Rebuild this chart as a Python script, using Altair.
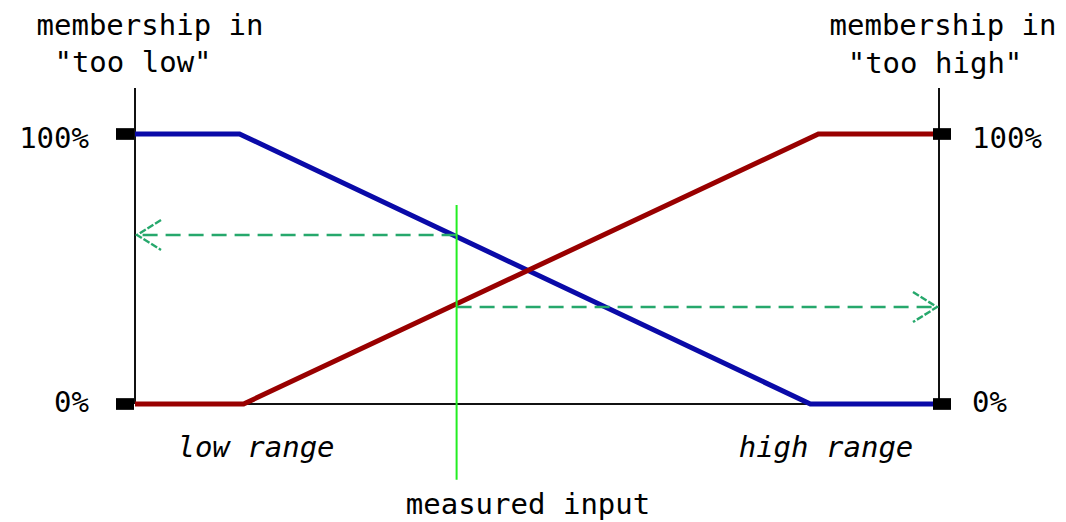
import altair as alt
import pandas as pd

# ---- data ----
blue_x = [0, 13, 84, 100]          # membership in "too low"
blue_y = [100, 100, 0, 0]
red_x = [0, 13.5, 85, 100]         # membership in "too high"
red_y = [0, 0, 100, 100]
measured_input = 40
too_low_at_input = 62.6
too_high_at_input = 35.9
tick_values = [0, 100]
tick_labels = ["0%", "100%"]
axis_top = 117
input_line_top = 73.7
input_line_bottom = -28.1

FONT = "DejaVu Sans Mono"
FS = 29
BLUE = "#0A0AA8"
RED = "#990000"
DASH = "#26A86C"
GREEN = "#22EE22"

xs = alt.Scale(domain=[0, 100], nice=False, zero=False)
ys = alt.Scale(domain=[0, 100], nice=False, zero=False)


def qx(f):
    return alt.X(f, type="quantitative", scale=xs, axis=None)


def qy(f):
    return alt.Y(f, type="quantitative", scale=ys, axis=None)


layers = []

# axes
vert = pd.DataFrame({"x": [0, 100], "y": [0, 0], "y2": [axis_top, axis_top]})
layers.append(alt.Chart(vert).mark_rule(color="#111", strokeWidth=2).encode(
    x=qx("x"), y=qy("y"), y2="y2"))
horiz = pd.DataFrame({"x": [0], "x2": [100], "y": [0]})
layers.append(alt.Chart(horiz).mark_rule(color="#111", strokeWidth=2).encode(
    x=qx("x"), x2="x2", y=qy("y")))

# membership lines
blue = pd.DataFrame({"x": blue_x, "y": blue_y, "o": range(len(blue_x))})
red = pd.DataFrame({"x": red_x, "y": red_y, "o": range(len(red_x))})
layers.append(alt.Chart(blue).mark_line(color=BLUE, strokeWidth=5).encode(
    x=qx("x"), y=qy("y"), order="o:Q"))
layers.append(alt.Chart(red).mark_line(color=RED, strokeWidth=5).encode(
    x=qx("x"), y=qy("y"), order="o:Q"))

# dashed arrows
arrows = pd.DataFrame({
    "x": [measured_input, measured_input],
    "x2": [0.25, 99.75],
    "y": [too_low_at_input, too_high_at_input],
})
layers.append(alt.Chart(arrows).mark_rule(color=DASH, strokeWidth=2.6, strokeDash=[15, 8]).encode(
    x=qx("x"), x2="x2", y=qy("y")))
left_head = pd.DataFrame({"x": [0.25], "y": [too_low_at_input]})
right_head = pd.DataFrame({"x": [99.75], "y": [too_high_at_input]})
layers.append(alt.Chart(left_head).mark_point(
    shape="M1.6,-1L0,0L1.6,1", size=900, filled=False, color=DASH, strokeWidth=2.4,
    strokeDash=[7, 2], opacity=1).encode(x=qx("x"), y=qy("y")))
layers.append(alt.Chart(right_head).mark_point(
    shape="M-1.6,-1L0,0L-1.6,1", size=900, filled=False, color=DASH, strokeWidth=2.4,
    strokeDash=[7, 2], opacity=1).encode(x=qx("x"), y=qy("y")))

# measured input line
inp = pd.DataFrame({"x": [measured_input], "y": [input_line_top], "y2": [input_line_bottom]})
layers.append(alt.Chart(inp).mark_rule(color=GREEN, strokeWidth=2).encode(
    x=qx("x"), y=qy("y"), y2="y2"))

# tick blobs
blob = "M-1,-0.65H1V0.65H-1Z"
lb = pd.DataFrame({"x": [0, 0], "y": tick_values})
rb = pd.DataFrame({"x": [100, 100], "y": tick_values})
layers.append(alt.Chart(lb).mark_point(shape=blob, size=324, filled=True, color="#000",
                                       opacity=1, xOffset=-10).encode(x=qx("x"), y=qy("y")))
layers.append(alt.Chart(rb).mark_point(shape=blob, size=324, filled=True, color="#000",
                                       opacity=1, xOffset=3).encode(x=qx("x"), y=qy("y")))

# tick labels
label_dy = {0: 8, 100: 14}
for v, lab in zip(tick_values, tick_labels):
    d = pd.DataFrame({"v": [v], "l": [lab]})
    layers.append(alt.Chart(d).mark_text(font=FONT, fontSize=FS, align="right",
                                         baseline="alphabetic", dy=label_dy[v], color="#000").encode(
        x=alt.value(-46), y=qy("v"), text="l:N"))
    layers.append(alt.Chart(d).mark_text(font=FONT, fontSize=FS, align="left",
                                         baseline="alphabetic", dy=label_dy[v], color="#000").encode(
        x=alt.value(837), y=qy("v"), text="l:N"))

# annotations
annotations = [
    ("membership in", 15, -99, "normal"),
    ('"too low"', -2, -62, "normal"),
    ("membership in", 808, -99, "normal"),
    ('"too high"', 800, -61, "normal"),
    ("low range", 121, 323, "italic"),
    ("high range", 691, 323, "italic"),
    ("measured input", 393, 380, "normal"),
]
for txt, px, py, style in annotations:
    d = pd.DataFrame({"t": [txt]})
    layers.append(alt.Chart(d).mark_text(font=FONT, fontSize=FS, fontStyle=style, align="center",
                                         baseline="alphabetic", color="#000").encode(
        x=alt.value(px), y=alt.value(py), text="t:N"))

chart = alt.layer(*layers).properties(
    width=804, height=270,
    autosize=alt.AutoSizeParams(type="none"),
    padding={"left": 127, "top": 126, "right": 119, "bottom": 130},
    background="white",
).configure_view(stroke=None)

chart.save("out.html", embed_options={"renderer": "svg", "actions": False})
